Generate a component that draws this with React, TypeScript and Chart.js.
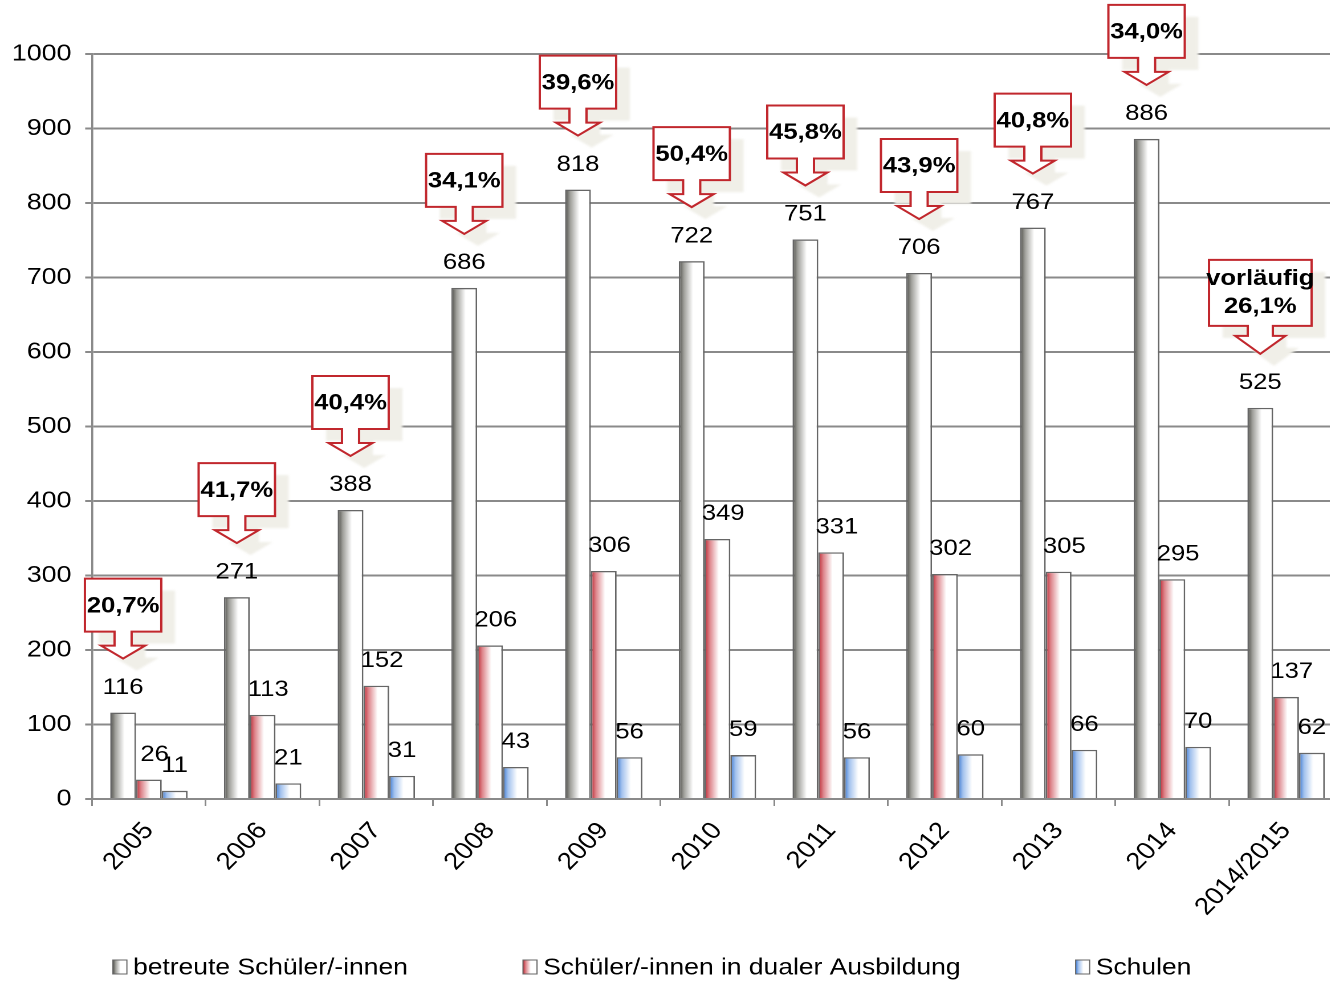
import React, { useEffect, useRef } from 'react';
import { Chart, registerables } from 'chart.js';

Chart.register(...registerables);

// ---------- data ----------
const categories = ['2005', '2006', '2007', '2008', '2009', '2010', '2011', '2012', '2013', '2014', '2014/2015'];
const betreuteSchueler = [116, 271, 388, 686, 818, 722, 751, 706, 767, 886, 525];
const dualeAusbildung = [26, 113, 152, 206, 306, 349, 331, 302, 305, 295, 137];
const schulen = [11, 21, 31, 43, 56, 59, 56, 60, 66, 70, 62];
const quoteLabels = [
  ['20,7%'], ['41,7%'], ['40,4%'], ['34,1%'], ['39,6%'], ['50,4%'],
  ['45,8%'], ['43,9%'], ['40,8%'], ['34,0%'], ['vorläufig', '26,1%'],
];
const seriesNames = ['betreute Schüler/-innen', 'Schüler/-innen in dualer Ausbildung', 'Schulen'];
const yMin = 0;
const yMax = 1000;
const yStep = 100;

// ---------- styling ----------
const SX = 1.14; // horizontal stretch of the whole picture
const W = 1181;
const H = 982;
const FONT = '"Liberation Sans", Arial, Helvetica, sans-serif';
const GRID = '#8a8a8a';
const BORDER = '#666666';
const CALLOUT_RED = '#c1272d';
const barShades = [
  ['#4a4a45', '#a0a09b', '#ffffff'],
  ['#bb2530', '#de868c', '#ffffff'],
  ['#3a77d1', '#a3c2ee', '#ffffff'],
];
const labelOffsetX = [0, 5, 0];

function makeGradient(ctx: CanvasRenderingContext2D, left: number, width: number, i: number) {
  const g = ctx.createLinearGradient(left, 0, left + width, 0);
  const s = barShades[i];
  g.addColorStop(0, s[0]);
  g.addColorStop(0.2, s[1]);
  g.addColorStop(0.55, s[2]);
  g.addColorStop(1, s[2]);
  return g;
}

function calloutPath(ctx: CanvasRenderingContext2D, tipX: number, tipY: number, big: boolean, dx = 0, dy = 0) {
  const w = big ? 90 : 67;
  const h = big ? 66 : 53;
  const stemHalf = big ? 11 : 7.5;
  const stemH = big ? 10 : 14;
  const headHalf = big ? 22 : 19.3;
  const headH = big ? 18 : 13;
  const x = tipX + dx;
  const ty = tipY + dy;
  const by = ty - headH - stemH - h;
  const bx = x - w / 2;
  ctx.beginPath();
  ctx.moveTo(bx, by);
  ctx.lineTo(bx + w, by);
  ctx.lineTo(bx + w, by + h);
  ctx.lineTo(x + stemHalf, by + h);
  ctx.lineTo(x + stemHalf, by + h + stemH);
  ctx.lineTo(x + headHalf, by + h + stemH);
  ctx.lineTo(x, ty);
  ctx.lineTo(x - headHalf, by + h + stemH);
  ctx.lineTo(x - stemHalf, by + h + stemH);
  ctx.lineTo(x - stemHalf, by + h);
  ctx.lineTo(bx, by + h);
  ctx.closePath();
  return { boxCenterY: by + h / 2 };
}

const decorPlugin = {
  id: 'decor',
  beforeDatasetsDraw(chart: any) {
    const ctx = chart.ctx as CanvasRenderingContext2D;
    chart.data.datasets.forEach((_: any, i: number) => {
      const meta = chart.getDatasetMeta(i);
      meta.data.forEach((el: any) => {
        const left = el.x - el.width / 2;
        el.options = { ...el.options, backgroundColor: makeGradient(ctx, left, el.width, i) };
      });
    });
  },
  afterDatasetsDraw(chart: any) {
    const ctx = chart.ctx as CanvasRenderingContext2D;
    // value labels
    ctx.save();
    ctx.fillStyle = '#000';
    ctx.font = `22.5px ${FONT}`;
    ctx.textAlign = 'center';
    ctx.textBaseline = 'middle';
    chart.data.datasets.forEach((ds: any, i: number) => {
      const meta = chart.getDatasetMeta(i);
      meta.data.forEach((el: any, j: number) => {
        ctx.fillText(String(ds.data[j]), el.x + labelOffsetX[i], el.y - 25);
      });
    });
    ctx.restore();

    // callouts
    const meta0 = chart.getDatasetMeta(0);
    meta0.data.forEach((el: any, j: number) => {
      const lines = quoteLabels[j];
      if (!lines) return;
      const big = lines.length > 1;
      const tipX = el.x;
      const tipY = el.y - 54;
      // shadow
      ctx.save();
      ctx.filter = 'blur(2px)';
      ctx.fillStyle = '#f0efe8';
      calloutPath(ctx, tipX, tipY, big, 12, 12);
      ctx.fill();
      ctx.restore();
      // shape
      ctx.save();
      const { boxCenterY } = calloutPath(ctx, tipX, tipY, big);
      ctx.fillStyle = '#ffffff';
      ctx.fill();
      ctx.strokeStyle = CALLOUT_RED;
      ctx.lineWidth = 2;
      ctx.lineJoin = 'miter';
      ctx.stroke();
      ctx.fillStyle = '#000';
      ctx.font = `bold 22.5px ${FONT}`;
      ctx.textAlign = 'center';
      ctx.textBaseline = 'middle';
      if (big) {
        ctx.fillText(lines[0], tipX, boxCenterY - 14);
        ctx.fillText(lines[1], tipX, boxCenterY + 14);
      } else {
        ctx.fillText(lines[0], tipX, boxCenterY + 1);
      }
      ctx.restore();
    });
  },
  afterDraw(chart: any) {
    const ctx = chart.ctx as CanvasRenderingContext2D;
    ctx.save();
    ctx.font = `23.2px ${FONT}`;
    ctx.textBaseline = 'middle';
    ctx.textAlign = 'left';
    let x = 99;
    const cy = 967;
    const sw = 12.3;
    const sh = 14;
    chart.data.datasets.forEach((ds: any, i: number) => {
      ctx.fillStyle = makeGradient(ctx, x, sw, i);
      ctx.fillRect(x, cy - sh / 2, sw, sh);
      ctx.strokeStyle = BORDER;
      ctx.lineWidth = 1;
      ctx.strokeRect(x, cy - sh / 2, sw, sh);
      const tx = x + sw + 5.4;
      ctx.fillStyle = '#000';
      ctx.fillText(ds.label, tx, cy + 1);
      x = tx + ctx.measureText(ds.label).width + 101;
    });
    ctx.restore();
  },
};

export default function App() {
  const ref = useRef<HTMLCanvasElement>(null);

  useEffect(() => {
    if (!ref.current) return;
    const commonBar = {
      borderColor: BORDER,
      borderWidth: 1.4,
      categoryPercentage: 0.68,
      barPercentage: 1,
    };
    const chart = new Chart(ref.current, {
      type: 'bar',
      data: {
        labels: categories,
        datasets: [
          { label: seriesNames[0], data: betreuteSchueler, backgroundColor: '#999', ...commonBar },
          { label: seriesNames[1], data: dualeAusbildung, backgroundColor: '#c33', ...commonBar },
          { label: seriesNames[2], data: schulen, backgroundColor: '#36c', ...commonBar },
        ],
      },
      options: {
        responsive: false,
        animation: false,
        devicePixelRatio: 2,
        events: [],
        layout: { padding: { top: 54, bottom: 63, left: 0, right: 3 } },
        plugins: {
          legend: { display: false },
          tooltip: { enabled: false },
        },
        scales: {
          x: {
            offset: true,
            grid: {
              display: true,
              drawOnChartArea: false,
              drawTicks: true,
              tickLength: 7,
              offset: true,
              color: GRID,
              lineWidth: 1.5,
            },
            border: { display: true, color: GRID, width: 2 },
            ticks: {
              color: '#000',
              font: { family: FONT, size: 24 },
              minRotation: 48.7,
              maxRotation: 48.7,
              autoSkip: false,
              padding: 11,
            },
            afterFit: (scale: any) => {
              scale.height = 120;
            },
          },
          y: {
            min: yMin,
            max: yMax,
            grid: {
              color: GRID,
              lineWidth: 2,
              drawTicks: true,
              tickLength: 6,
            },
            border: { display: true, color: GRID, width: 1.8 },
            ticks: {
              stepSize: yStep,
              color: '#000',
              font: { family: FONT, size: 23.5 },
              padding: 12,
              callback: (v: any) => String(v),
            },
            afterFit: (scale: any) => {
              scale.width = 80.7;
            },
          },
        },
      },
      plugins: [decorPlugin],
    } as any);
    return () => chart.destroy();
  }, []);

  return (
    <div
      style={{
        position: 'fixed',
        left: 0,
        top: 0,
        width: 1330,
        height: 982,
        overflow: 'hidden',
        background: '#fff',
      }}
    >
      <div style={{ width: W, height: H, transform: `scaleX(${SX})`, transformOrigin: '0 0' }}>
        <canvas ref={ref} width={W} height={H} style={{ display: 'block' }} />
      </div>
    </div>
  );
}
